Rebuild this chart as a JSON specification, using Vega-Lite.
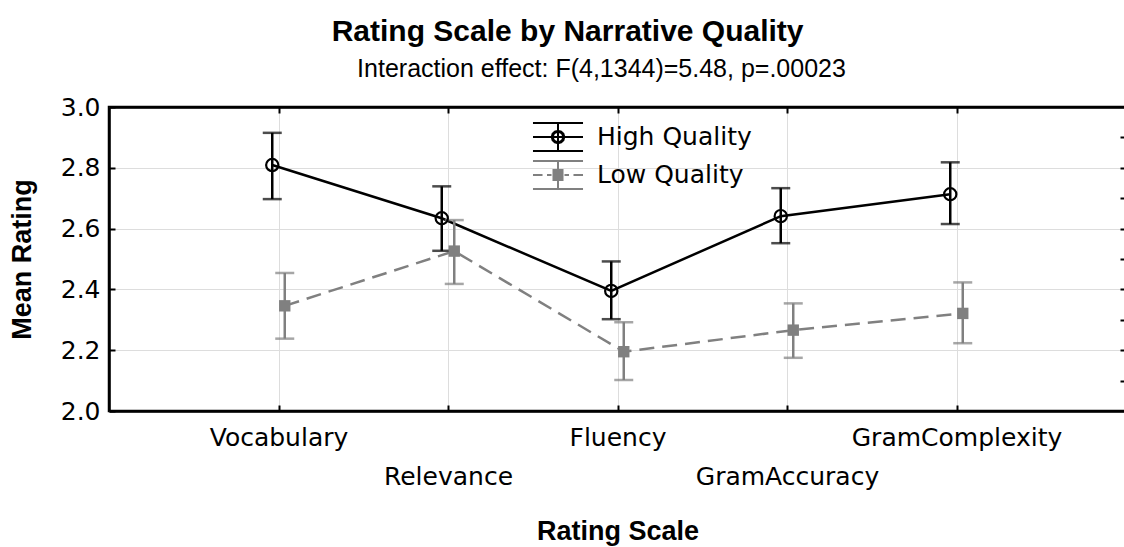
{
  "$schema": "https://vega.github.io/schema/vega-lite/v6.json",
  "background": "white",
  "padding": {"left": 6, "top": 16, "right": 0, "bottom": 0},
  "title": {"text": "Rating Scale by Narrative Quality", "font": "Liberation Sans", "fontSize": 30, "fontWeight": "bold", "anchor": "middle", "frame": "bounds", "offset": 9, "color": "black"},
  "config": {
    "view": {"stroke": "black", "strokeWidth": 2.5},
    "axis": {"domainColor": "black", "domainWidth": 2.5, "tickColor": "black", "tickWidth": 2, "labelFont": "DejaVu Sans", "labelFontSize": 25, "labelColor": "black", "labelLimit": 500, "titleFont": "Liberation Sans", "titleFontWeight": "bold", "titleFontSize": 27, "titleColor": "black", "gridColor": "#dddddd", "gridWidth": 1}
  },
  "vconcat": [
    {
      "width": 1017,
      "height": 304,
      "title": {"text": "Interaction effect: F(4,1344)=5.48, p=.00023", "font": "Liberation Sans", "fontSize": 25, "fontWeight": "normal", "anchor": "middle", "frame": "group", "dx": -16, "offset": 13, "color": "black"},
      "data": {"values": [
        {"scale": "Vocabulary", "quality": "High Quality", "mean": 2.809, "lo": 2.697, "hi": 2.915},
        {"scale": "Relevance", "quality": "High Quality", "mean": 2.634, "lo": 2.527, "hi": 2.739},
        {"scale": "Fluency", "quality": "High Quality", "mean": 2.395, "lo": 2.302, "hi": 2.492},
        {"scale": "GramAccuracy", "quality": "High Quality", "mean": 2.641, "lo": 2.552, "hi": 2.733},
        {"scale": "GramComplexity", "quality": "High Quality", "mean": 2.713, "lo": 2.615, "hi": 2.818},
        {"scale": "Vocabulary", "quality": "Low Quality", "mean": 2.346, "lo": 2.238, "hi": 2.454},
        {"scale": "Relevance", "quality": "Low Quality", "mean": 2.526, "lo": 2.418, "hi": 2.628},
        {"scale": "Fluency", "quality": "Low Quality", "mean": 2.195, "lo": 2.102, "hi": 2.292},
        {"scale": "GramAccuracy", "quality": "Low Quality", "mean": 2.266, "lo": 2.175, "hi": 2.354},
        {"scale": "GramComplexity", "quality": "Low Quality", "mean": 2.321, "lo": 2.223, "hi": 2.423}
      ]},
      "layer": [
        {
          "transform": [{"filter": "datum.quality === 'High Quality'"}],
          "mark": {"type": "line", "strokeWidth": 2.5},
          "encoding": {
            "x": {"field": "scale", "type": "nominal", "sort": ["Vocabulary", "Relevance", "Fluency", "GramAccuracy", "GramComplexity"], "scale": {"type": "point", "padding": 1},
              "axis": {"orient": "bottom", "title": "Rating Scale", "labelAngle": 0, "tickSize": -6, "grid": true, "labelBaseline": "top", "labelPadding": {"condition": {"test": "datum.value === 'Relevance' || datum.value === 'GramAccuracy'", "value": 59}, "value": 20}, "titlePadding": 29}},
            "xOffset": {"field": "quality", "type": "nominal", "scale": {"type": "point", "domain": ["High Quality", "Low Quality"], "range": [-12.5, 12.5]}},
            "y": {"field": "mean", "type": "quantitative", "scale": {"domain": [2, 3], "nice": false, "zero": false},
              "axis": {"orient": "left", "title": "Mean Rating", "values": [2, 2.2, 2.4, 2.6, 2.8, 3], "format": ".1f", "tickSize": -6, "labelPadding": 15, "titlePadding": 24, "grid": true}},
            "color": {"field": "quality", "type": "nominal", "scale": {"domain": ["High Quality", "Low Quality"], "range": ["black", "#808080"]},
              "legend": {"title": null, "orient": "none", "legendX": 430, "legendY": 11, "padding": 0, "symbolSize": 1296, "labelFont": "DejaVu Sans", "labelFontSize": 25, "labelColor": "black", "labelOffset": 20, "rowPadding": 0, "symbolStrokeWidth": 2, "symbolFillColor": "transparent",
                "encode": {"symbols": {"update": {
                  "size": {"value": 1296},
                  "shape": {"signal": "datum.value === 'High Quality' ? 'M-1.39,-0.78H1.39M-1.39,0.78H1.39M-1.39,0H1.39M0,-0.78V0.78M0.347,0L0.3005,0.1735L0.1735,0.3005L0,0.347L-0.1735,0.3005L-0.3005,0.1735L-0.347,0L-0.3005,-0.1735L-0.1735,-0.3005L0,-0.347L0.1735,-0.3005L0.3005,-0.1735ZM0.292,0L0.2529,-0.146L0.146,-0.2529L0,-0.292L-0.146,-0.2529L-0.2529,-0.146L-0.292,0L-0.2529,0.146L-0.146,0.2529L0,0.292L0.146,0.2529L0.2529,0.146Z' : 'M-1.39,-0.78H1.39M-1.39,0.78H1.39M0,-0.78V0.78M-1.39,0H-0.86M-0.61,0H-0.36M0.36,0H0.61M0.86,0H1.39M-0.306,-0.28H0.306M-0.306,-0.17H0.306M-0.306,-0.06H0.306M-0.306,0.06H0.306M-0.306,0.17H0.306M-0.306,0.28H0.306'"},
                  "fill": {"value": "transparent"},
                  "stroke": {"signal": "datum.value === 'High Quality' ? 'black' : '#808080'"},
                  "strokeWidth": {"value": 2}
                }}}}}
          }
        },
        {
          "transform": [{"filter": "datum.quality === 'Low Quality'"}],
          "mark": {"type": "line", "strokeWidth": 2.5, "strokeDash": [15, 8]},
          "encoding": {
            "x": {"field": "scale", "type": "nominal", "sort": ["Vocabulary", "Relevance", "Fluency", "GramAccuracy", "GramComplexity"], "scale": {"type": "point", "padding": 1}, "axis": null},
            "xOffset": {"field": "quality", "type": "nominal", "scale": {"type": "point", "domain": ["High Quality", "Low Quality"], "range": [-12.5, 12.5]}},
            "y": {"field": "mean", "type": "quantitative", "scale": {"domain": [2, 3], "nice": false, "zero": false}, "axis": null},
            "color": {"field": "quality", "type": "nominal"}
          }
        },
        {
          "mark": {"type": "rule", "strokeWidth": 2.5},
          "encoding": {
            "x": {"field": "scale", "type": "nominal", "sort": ["Vocabulary", "Relevance", "Fluency", "GramAccuracy", "GramComplexity"], "scale": {"type": "point", "padding": 1},
              "axis": {"orient": "top", "labels": false, "title": null, "tickSize": -6, "grid": false}},
            "xOffset": {"field": "quality", "type": "nominal", "scale": {"type": "point", "domain": ["High Quality", "Low Quality"], "range": [-12.5, 12.5]}},
            "y": {"field": "lo", "type": "quantitative", "scale": {"domain": [2, 3], "nice": false, "zero": false},
              "axis": {"orient": "right", "labels": false, "title": null, "values": [2.1, 2.2, 2.3, 2.4, 2.5, 2.6, 2.7, 2.8, 2.9], "tickSize": -6, "grid": false}},
            "y2": {"field": "hi"},
            "stroke": {"field": "quality", "type": "nominal", "scale": {"domain": ["High Quality", "Low Quality"], "range": ["black", "#808080"]}, "legend": null}
          }
        },
        {
          "mark": {"type": "tick", "orient": "horizontal", "size": 19, "thickness": 2.5},
          "encoding": {
            "x": {"field": "scale", "type": "nominal", "sort": ["Vocabulary", "Relevance", "Fluency", "GramAccuracy", "GramComplexity"], "scale": {"type": "point", "padding": 1}, "axis": null},
            "xOffset": {"field": "quality", "type": "nominal", "scale": {"type": "point", "domain": ["High Quality", "Low Quality"], "range": [-12.5, 12.5]}},
            "y": {"field": "hi", "type": "quantitative", "scale": {"domain": [2, 3], "nice": false, "zero": false}, "axis": null},
            "fill": {"field": "quality", "type": "nominal", "scale": {"domain": ["High Quality", "Low Quality"], "range": ["black", "#808080"]}, "legend": null}
          }
        },
        {
          "mark": {"type": "tick", "orient": "horizontal", "size": 19, "thickness": 2.5},
          "encoding": {
            "x": {"field": "scale", "type": "nominal", "sort": ["Vocabulary", "Relevance", "Fluency", "GramAccuracy", "GramComplexity"], "scale": {"type": "point", "padding": 1}, "axis": null},
            "xOffset": {"field": "quality", "type": "nominal", "scale": {"type": "point", "domain": ["High Quality", "Low Quality"], "range": [-12.5, 12.5]}},
            "y": {"field": "lo", "type": "quantitative", "scale": {"domain": [2, 3], "nice": false, "zero": false}, "axis": null},
            "fill": {"field": "quality", "type": "nominal", "legend": null}
          }
        },
        {
          "transform": [{"filter": "datum.quality === 'High Quality'"}],
          "mark": {"type": "point", "shape": "circle", "filled": false, "stroke": "black", "strokeWidth": 2.2, "size": 150, "opacity": 1},
          "encoding": {
            "x": {"field": "scale", "type": "nominal", "sort": ["Vocabulary", "Relevance", "Fluency", "GramAccuracy", "GramComplexity"], "scale": {"type": "point", "padding": 1}, "axis": null},
            "xOffset": {"field": "quality", "type": "nominal", "scale": {"type": "point", "domain": ["High Quality", "Low Quality"], "range": [-12.5, 12.5]}},
            "y": {"field": "mean", "type": "quantitative", "scale": {"domain": [2, 3], "nice": false, "zero": false}, "axis": null}
          }
        },
        {
          "transform": [{"filter": "datum.quality === 'Low Quality'"}],
          "mark": {"type": "square", "filled": true, "color": "#808080", "size": 130, "opacity": 1},
          "encoding": {
            "x": {"field": "scale", "type": "nominal", "sort": ["Vocabulary", "Relevance", "Fluency", "GramAccuracy", "GramComplexity"], "scale": {"type": "point", "padding": 1}, "axis": null},
            "xOffset": {"field": "quality", "type": "nominal", "scale": {"type": "point", "domain": ["High Quality", "Low Quality"], "range": [-12.5, 12.5]}},
            "y": {"field": "mean", "type": "quantitative", "scale": {"domain": [2, 3], "nice": false, "zero": false}, "axis": null}
          }
        }
      ],
      "resolve": {"axis": {"x": "independent", "y": "independent"}}
    }
  ]
}
